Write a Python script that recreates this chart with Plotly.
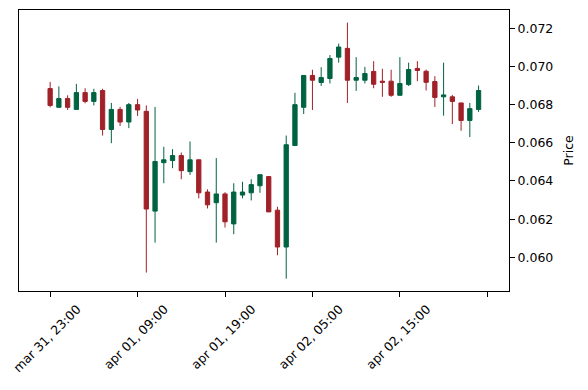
import pandas as pd
import plotly.graph_objects as go

# hourly candles starting mar 31, 23:00
start = "2024-03-31 23:00"
opens = [0.06884, 0.06786, 0.06832, 0.06775, 0.06863, 0.06817, 0.06874, 0.06670, 0.06775, 0.06709,
         0.06800, 0.06765, 0.06242, 0.06496, 0.06507, 0.06533, 0.06449, 0.06511, 0.06342, 0.06286,
         0.06332, 0.06175, 0.06326, 0.06338, 0.06375, 0.06423, 0.06247, 0.06054, 0.06586, 0.06786,
         0.06953, 0.06916, 0.06937, 0.07049, 0.07095, 0.06928, 0.06928, 0.06974, 0.06923, 0.06923,
         0.06849, 0.06905, 0.06990, 0.06975, 0.06921, 0.06841, 0.06841, 0.06809, 0.06717, 0.06775]
highs = [0.06919, 0.06896, 0.06849, 0.06909, 0.06886, 0.06883, 0.06883, 0.06809, 0.06788, 0.06809,
         0.06830, 0.06796, 0.06788, 0.06579, 0.06567, 0.06549, 0.06607, 0.06512, 0.06356, 0.06520,
         0.06341, 0.06388, 0.06396, 0.06409, 0.06433, 0.06423, 0.06265, 0.06638, 0.06862, 0.06953,
         0.06983, 0.06996, 0.07060, 0.07120, 0.07230, 0.07049, 0.06998, 0.07028, 0.06988, 0.06983,
         0.07049, 0.07020, 0.07028, 0.06984, 0.06949, 0.07020, 0.06851, 0.06809, 0.06809, 0.06900]
lows = [0.06786, 0.06785, 0.06772, 0.06775, 0.06807, 0.06796, 0.06638, 0.06598, 0.06688, 0.06677,
        0.06741, 0.05920, 0.06077, 0.06388, 0.06467, 0.06409, 0.06432, 0.06309, 0.06256, 0.06077,
        0.06156, 0.06121, 0.06309, 0.06298, 0.06338, 0.06238, 0.06011, 0.05888, 0.06586, 0.06751,
        0.06772, 0.06898, 0.06911, 0.07020, 0.06809, 0.06872, 0.06911, 0.06886, 0.06841, 0.06841,
        0.06849, 0.06898, 0.06923, 0.06874, 0.06788, 0.06742, 0.06698, 0.06663, 0.06630, 0.06762]
closes = [0.06796, 0.06832, 0.06786, 0.06863, 0.06817, 0.06863, 0.06670, 0.06775, 0.06709, 0.06800,
          0.06772, 0.06253, 0.06502, 0.06511, 0.06533, 0.06454, 0.06511, 0.06338, 0.06275, 0.06332,
          0.06186, 0.06342, 0.06342, 0.06381, 0.06433, 0.06238, 0.06054, 0.06590, 0.06800, 0.06953,
          0.06928, 0.06942, 0.07042, 0.07102, 0.06928, 0.06942, 0.06963, 0.06907, 0.06917, 0.06849,
          0.06911, 0.06984, 0.06979, 0.06917, 0.06838, 0.06851, 0.06817, 0.06717, 0.06779, 0.06874]
y_ticks = [0.060, 0.062, 0.064, 0.066, 0.068, 0.070, 0.072]
x_tick_idx = [0, 10, 20, 30, 40, 50]

times = pd.date_range(start, periods=len(opens), freq="h")
idx = list(range(len(opens)))
tick_text = [times[i].strftime("%b %d, %H:%M").lower() if i < len(times) else "" for i in x_tick_idx]

UP = "#006340"
DOWN = "#a02128"

fig = go.Figure(go.Candlestick(
    x=idx, open=opens, high=highs, low=lows, close=closes,
    increasing=dict(line=dict(color=UP, width=1), fillcolor=UP),
    decreasing=dict(line=dict(color=DOWN, width=1), fillcolor=DOWN),
    whiskerwidth=0, showlegend=False,
))

font = dict(family="DejaVu Sans", size=12.5, color="black")
fig.update_layout(
    width=580, height=382,
    margin=dict(l=11, r=79, t=2, b=99),
    plot_bgcolor="white", paper_bgcolor="white",
    font=font,
    boxgap=0.3,
    xaxis=dict(
        range=[-3.56, 52.48], rangeslider=dict(visible=False),
        tickmode="array", tickvals=x_tick_idx, ticktext=tick_text,
        tickangle=-45, ticks="outside", ticklen=5, tickcolor="black",
        showline=True, linecolor="black", linewidth=1, mirror=True,
        showgrid=False, zeroline=False, ticklabelshift=27,
    ),
    yaxis=dict(
        side="right", range=[0.058234, 0.07296],
        tickmode="array", tickvals=y_ticks, tickformat=".3f",
        ticks="outside", ticklen=5, tickcolor="black",
        showline=True, linecolor="black", linewidth=1, mirror=True,
        showgrid=False, zeroline=False,
        title=dict(text="Price", font=font, standoff=11),
    ),
)

fig.write_html("out.html")
